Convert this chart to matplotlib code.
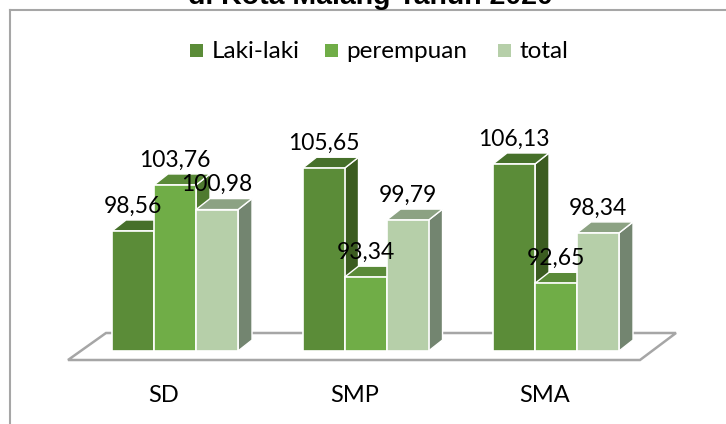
import matplotlib
matplotlib.use('Agg')
import matplotlib.pyplot as plt
from matplotlib.patches import Polygon, Rectangle

plt.rcParams['font.family'] = ['Lato', 'DejaVu Sans']

categories = ['SD', 'SMP', 'SMA']
series = ['Laki-laki', 'perempuan', 'total']
laki = [98.56, 105.65, 106.13]
perempuan = [103.76, 93.34, 92.65]
total = [100.98, 99.79, 98.34]
labels_laki = ['98,56', '105,65', '106,13']
labels_perempuan = ['103,76', '93,34', '92,65']
labels_total = ['100,98', '99,79', '98,34']

front = ['#5B8C38', '#70AD47', '#B6CFA9']
top = ['#46702A', '#5A8A38', '#8CA283']
side = ['#3B5C20', '#4F7A30', '#738570']

W, H = 726, 424
fig = plt.figure(figsize=(W / 100, H / 100), dpi=100)
ax = fig.add_axes([0, 0, 1, 1])
# x in group units, y in value units, fitted to the picture
px_x = 190.5
px_y = 8.85
x0 = -112 / px_x
ax.set_xlim(x0, x0 + W / px_x)
y_base = 85.0
ax.set_ylim(y_base - (H - 351) / px_y, y_base + 351 / px_y)
ax.axis('off')

bar_w = 0.2205
dep_x = 14 / px_x
dep_y = 11 / px_y

def sx(px):
    return x0 + px / px_x

def sy(py):
    return y_base + (351 - py) / px_y

# frame: only top and left are inside the crop
ax.plot([sx(9.5), sx(9.5)], [sy(430), sy(9.5)], color='#A6A6A6', lw=1.5, zorder=0)
ax.plot([sx(9.5), sx(730)], [sy(9.5), sy(9.5)], color='#A6A6A6', lw=1.5, zorder=0)
# floor
floor = [(sx(68), sy(360)), (sx(640), sy(360)), (sx(676), sy(333)), (sx(106), sy(333))]
ax.add_patch(Polygon(floor, closed=True, fc='white', ec='#A6A6A6', lw=1.8, zorder=1))

all_vals = [laki, perempuan, total]
all_labels = [labels_laki, labels_perempuan, labels_total]

z = 2
for g in range(len(categories)):
    for s in range(len(series)):
        v = all_vals[s][g]
        x = g + s * bar_w
        # side, top and front faces of each box
        ax.add_patch(Polygon([(x + bar_w, y_base), (x + bar_w + dep_x, y_base + dep_y),
                              (x + bar_w + dep_x, v + dep_y), (x + bar_w, v)],
                             fc=side[s], ec='white', lw=1.0, zorder=z))
        ax.add_patch(Polygon([(x, v), (x + bar_w, v), (x + bar_w + dep_x, v + dep_y),
                              (x + dep_x, v + dep_y)],
                             fc=top[s], ec='white', lw=1.0, zorder=z))
        ax.add_patch(Rectangle((x, y_base), bar_w, v - y_base,
                               fc=front[s], ec='white', lw=1.2, zorder=z + 0.5))
        z += 1

for g in range(len(categories)):
    for s in range(len(series)):
        x = g + (s + 0.5) * bar_w
        ax.text(x, all_vals[s][g] + 25 / px_y, all_labels[s][g], ha='center', va='center',
                fontsize=16.5, color='black', zorder=50)
    ax.text(g + 1.5 * bar_w - 11 / px_x, sy(396), categories[g], ha='center', va='center',
            fontsize=17, color='black', zorder=50)

# legend
leg_boxes = [190, 325, 498]
leg_text = [212, 346, 519]
for s in range(len(series)):
    ax.add_patch(Rectangle((sx(leg_boxes[s]), sy(56.5)), 13 / px_x, 13 / px_y,
                           fc=front[s], ec='none', zorder=5))
    ax.text(sx(leg_text[s]), sy(51), series[s], ha='left', va='center', fontsize=17.5, color='black')

fig.text(370 / W, 1.0 - 3.5 / H, 'di Kota Malang Tahun 2020', ha='center', va='baseline',
         fontsize=20.5, fontweight='bold', family='Liberation Sans', color='black')

fig.savefig('out.png', dpi=100)
